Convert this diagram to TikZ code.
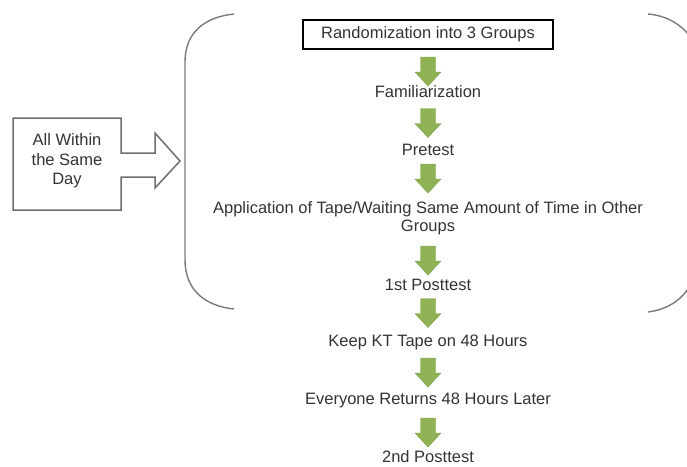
\documentclass[tikz,border=0pt]{standalone}
\usepackage{fontspec}
\setmainfont{Liberation Sans}
\definecolor{agreen}{HTML}{8FB254}
\definecolor{agreenD}{HTML}{7EA046}
\definecolor{txt}{HTML}{333333}
\definecolor{brk}{HTML}{7A7A7A}
\begin{document}
\begin{tikzpicture}[x=1pt,y=-1pt,
  lbl/.style={font=\fontsize{16.5}{19}\selectfont, text=txt, inner sep=0pt, anchor=base},
  bracket/.style={draw=brk, line width=1.4pt},
  garrow/.pic={\fill[agreen, draw=agreenD, line width=0.4pt]
     (-7.5,0) -- (7.5,0) -- (7.5,15) -- (13,15) -- (0,29) -- (-13,15) -- (-7.5,15) -- cycle;}
  ]
\useasboundingbox (0,0) rectangle (687,466);
\begin{scope}
\clip (0,0) rectangle (687,466);
% brackets
\draw[bracket] (234,14) .. controls (205,17) and (185,32) .. (185,62)
  -- (185,260) .. controls (185,290) and (205,306) .. (234,309);
\draw[bracket] (648,14) .. controls (672,16) and (688,30) .. (695,45);
\draw[bracket] (695,275) .. controls (688,295) and (672,309) .. (648,312);
\end{scope}
% top box
\node[draw=black, line width=2.4pt, minimum width=250pt, minimum height=29pt,
  inner sep=0pt, font=\fontsize{16.5}{19}\selectfont, text=txt] (rand) at (428,34.5) {Randomization into 3 Groups};
% labels
\node[lbl] (fam) at (428,97) {Familiarization};
\node[lbl] (pre) at (428,155) {Pretest};
\node[lbl] (app) at (428,213) {Application of Tape/Waiting Same Amount of Time in Other};
\node[lbl] (grp) at (428,231) {Groups};
\node[lbl] (p1) at (428,290) {1st Posttest};
\node[lbl] (keep) at (428,346) {Keep KT Tape on 48 Hours};
\node[lbl] (ret) at (428,404) {Everyone Returns 48 Hours Later};
\node[lbl] (p2) at (428,462) {2nd Posttest};
% green arrows
\pic at (428,57) {garrow};
\pic at (428,108.5) {garrow};
\pic at (428,164) {garrow};
\pic at (428,246) {garrow};
\pic at (428,298.5) {garrow};
\pic at (428,358) {garrow};
\pic at (428,418) {garrow};
% left block arrow
\draw[draw=brk!90!black, line width=1.5pt, fill=white]
  (13,118) -- (121,118) -- (121,153) -- (155,153) -- (155,133) -- (180,161)
  -- (155,188) -- (155,177) -- (121,177) -- (121,210) -- (13,210) -- cycle;
\node[font=\fontsize{16.5}{19.5}\selectfont, text=txt, align=center, inner sep=0pt] (day) at (67,161) {All Within\\the Same\\Day};
\end{tikzpicture}
\end{document}
